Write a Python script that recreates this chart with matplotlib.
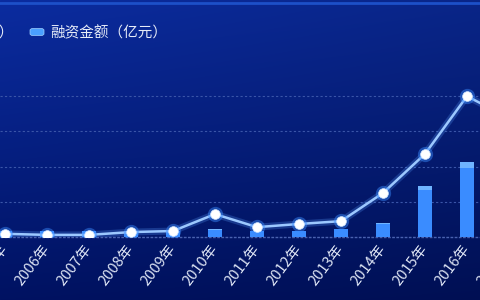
import numpy as np
import matplotlib
matplotlib.use('Agg')
import matplotlib.pyplot as plt
import matplotlib.transforms as mtransforms
from matplotlib.patches import FancyBboxPatch

plt.rcParams['font.family'] = ['Noto Sans CJK SC', 'DejaVu Sans']

# data (chart is cropped on both sides)
years = ['2004年', '2005年', '2006年', '2007年', '2008年', '2009年', '2010年',
         '2011年', '2012年', '2013年', '2014年', '2015年', '2016年', '2017年']
events = [8, 9, 6, 6, 14, 17, 65, 28, 37, 45, 125, 236, 400, 338]   # line, left scale
amount = [85, 85, 85, 85, 85, 85, 114, 85, 85, 120, 205, 725, 1060, 900]  # bars, right scale
legend_labels = ['融资事件（起）', '融资金额（亿元）']

W, H, DPI = 480, 300, 100
fig = plt.figure(figsize=(W / DPI, H / DPI), dpi=DPI)

# background gradient
bg = fig.add_axes([0, 0, 1, 1], zorder=0)
yy, xx = np.mgrid[0:1:300j, 0:1:480j]
top = np.array([0x0b, 0x2c, 0xa0]) / 255
bot = np.array([0x00, 0x12, 0x62]) / 255
img = top[None, None, :] * (1 - yy[..., None]) + bot[None, None, :] * yy[..., None]
img = img * (1 - 0.15 * xx[..., None])
bg.imshow(img, aspect='auto', extent=[0, 1, 0, 1], origin='upper')
bg.axhline(1 - 2.5 / H, color='#1d50c8', lw=2)
bg.set_xlim(0, 1)
bg.set_ylim(0, 1)
bg.axis('off')

# main axes: baseline at 237px, 35.2px per 100 events
base_px = 237
ax = fig.add_axes([0, (H - base_px) / H, 1, base_px / H], zorder=2)
ax.patch.set_alpha(0)
x = np.arange(len(years)) - 1
ymax = base_px / 35.2 * 100
xlim = ((0 - 5) / 42, (W - 5) / 42)

ax2 = ax.twinx()
ax2.bar(x, amount, width=0.34, color='#3a8cff', edgecolor='none', zorder=1)
ax2.bar(x, [a * 0.08 for a in amount], bottom=[a * 0.92 for a in amount],
        width=0.34, color='#6fb4ff', edgecolor='none', zorder=1)
ax2.set_ylim(0, ymax * 5)
ax2.axis('off')

ax3 = ax.twinx()
ax3.plot(x, events, color='#5aa0ff', lw=5, alpha=0.25, solid_capstyle='round')
ax3.plot(x, events, color='#9cc8ff', lw=1.8)
ax3.plot(x, events, ls='none', marker='o', ms=11, color='#3a8cff', alpha=0.45, mec='none')
ax3.plot(x, events, ls='none', marker='o', ms=7, color='white', mec='#cfe4ff', mew=0.5)
ax3.set_ylim(0, ymax)
ax3.axis('off')

ax.set_ylim(0, ymax)
ax.set_yticks([100, 200, 300, 400])
ax.grid(axis='y', color='#3a55a8', lw=0.8, ls=(0, (2, 2)))
ax.axhline(0, color='#4a62b0', lw=1, ls=(0, (2, 1)), clip_on=False)
for s in ax.spines.values():
    s.set_visible(False)
ax.tick_params(axis='y', left=False, labelleft=False)
ax.set_xticks([])

# year labels drawn as text so the ones at the cut edges still show partly
shift = mtransforms.ScaledTranslation(0, -9 / DPI, fig.dpi_scale_trans)
for xi, lab in zip(x, years):
    ax.text(xi, 0, lab, transform=ax.transData + shift, rotation=53,
            rotation_mode='anchor', ha='right', va='center', color='#dde4f4',
            fontsize=10.5, fontweight='medium', clip_on=False)

for a in (ax, ax2, ax3):
    a.set_autoscalex_on(False)
    a.set_xlim(*xlim)

# legend (first item runs off the left edge)
fig.text(14 / W, 1 - 33 / H, legend_labels[0], ha='right', va='center',
         color='#e6ecf8', fontsize=10.5, fontweight='medium')
fig.patches.append(FancyBboxPatch((30 / W, 1 - 35.5 / H), 14 / W, 7 / H,
                                  boxstyle='round,pad=0,rounding_size=0.006',
                                  transform=fig.transFigure, color='#4aa0ff',
                                  ec='#9fd0ff', lw=0.5, zorder=5))
fig.text(50 / W, 1 - 33 / H, legend_labels[1], ha='left', va='center',
         color='#e6ecf8', fontsize=10.5, fontweight='medium')

fig.savefig('out.png', dpi=DPI)
